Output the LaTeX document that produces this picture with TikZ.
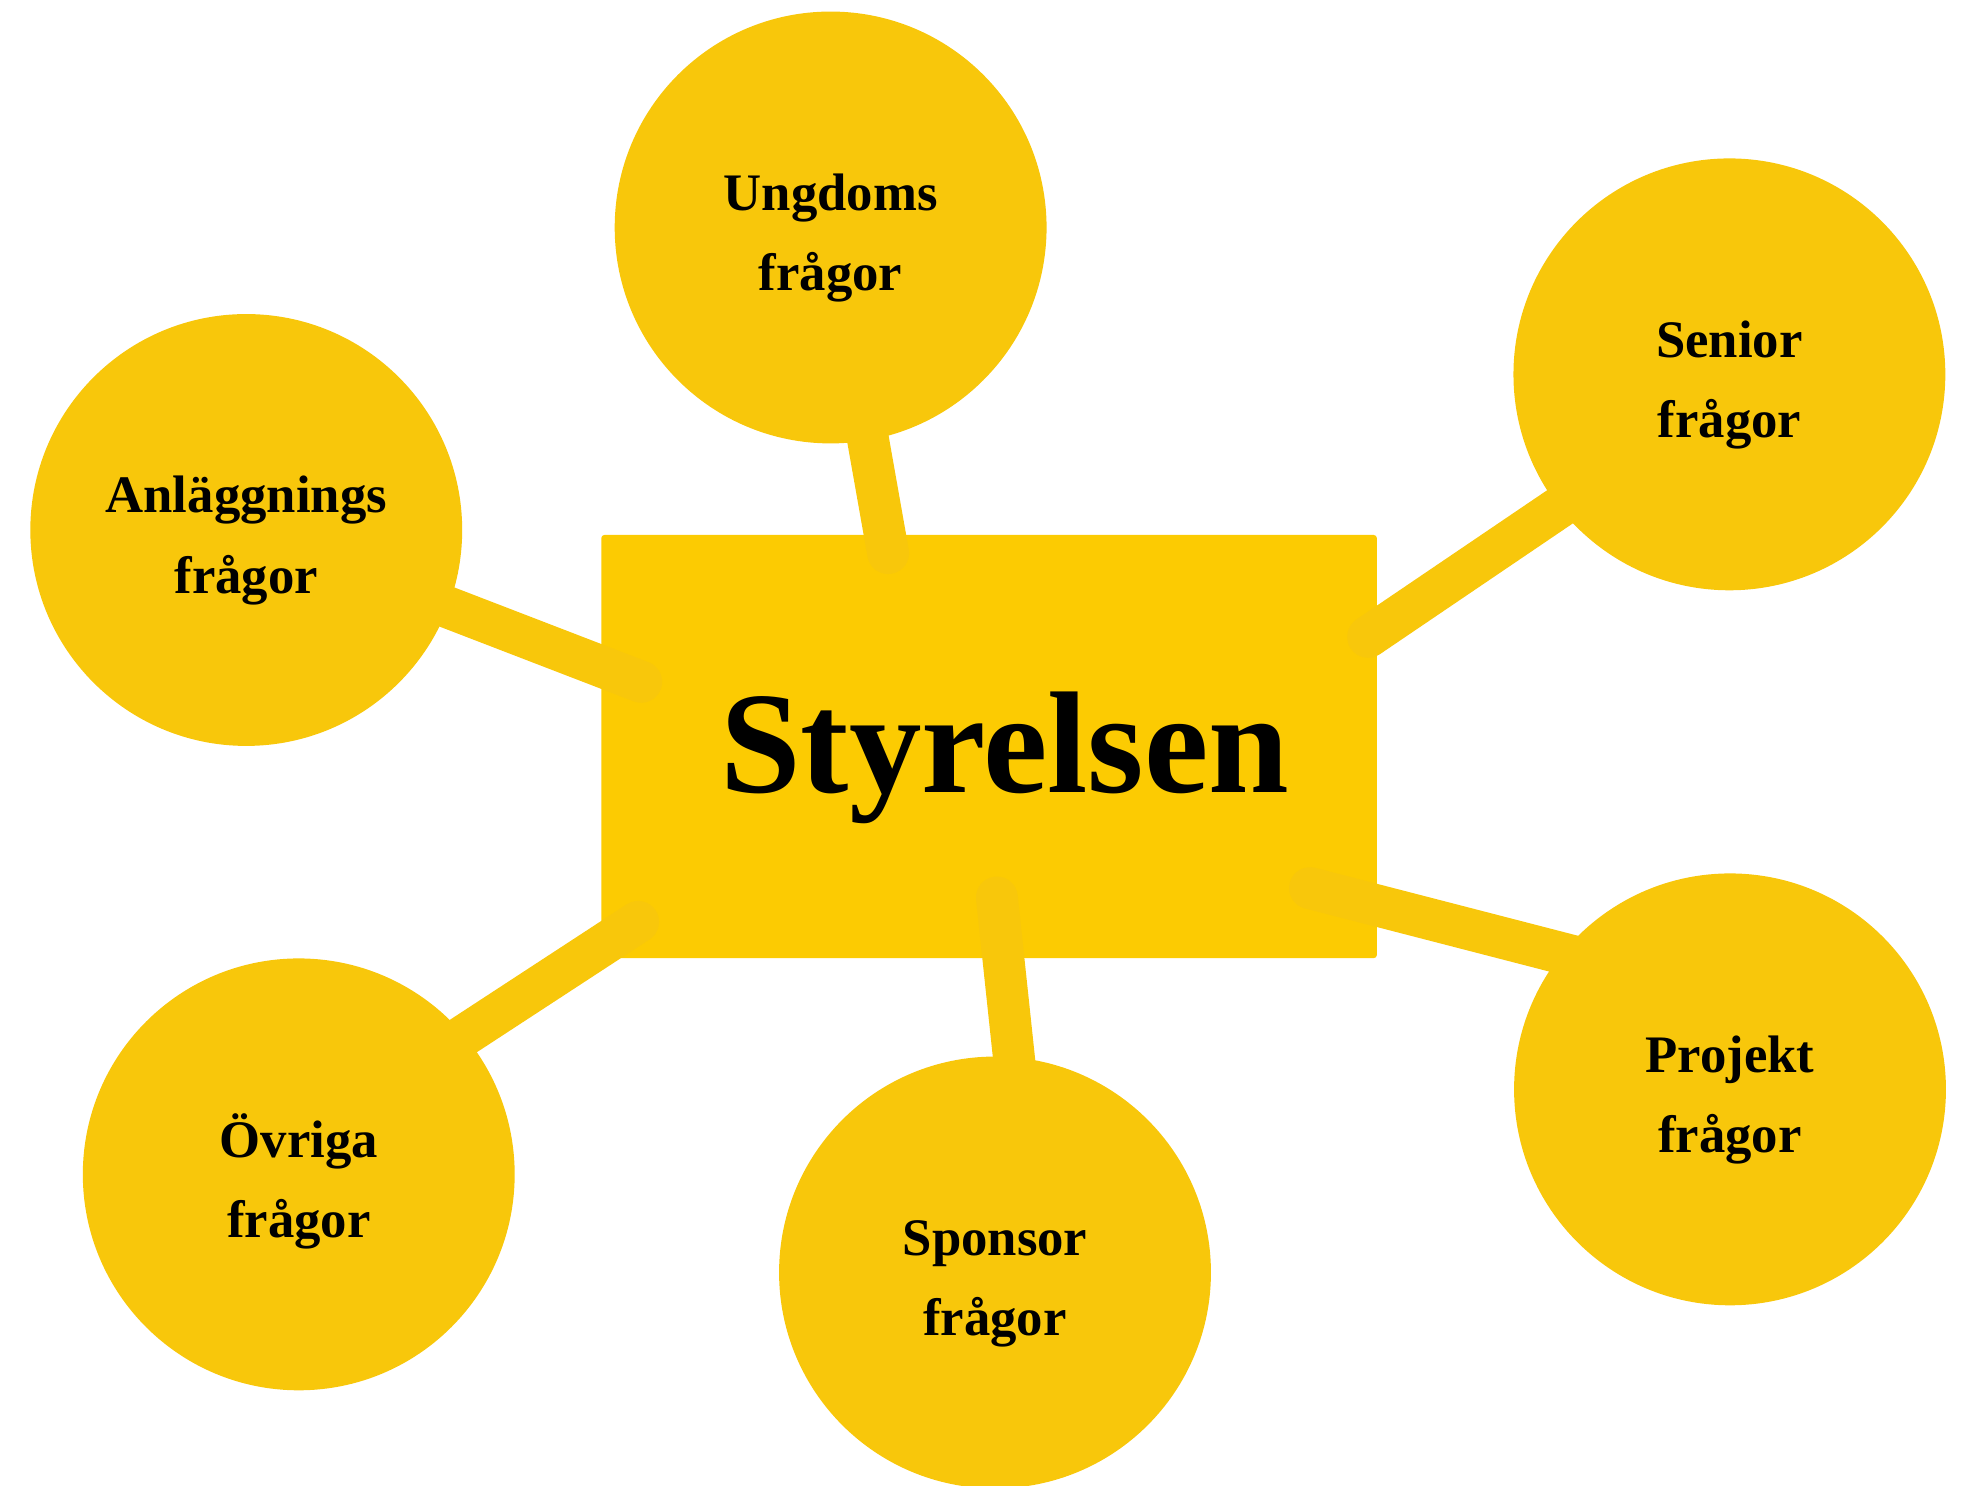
\documentclass[tikz,border=0pt]{standalone}
\usepackage{fontspec}
\setmainfont{Liberation Serif}
\pgfdeclarelayer{back}
\pgfdeclarelayer{links}
\pgfsetlayers{back,links,main}
\definecolor{boardyellow}{RGB}{252,203,2}
\definecolor{topicyellow}{RGB}{248,199,11}

\begin{document}
\begin{tikzpicture}[
    topic/.style={circle, fill=topicyellow, minimum size=6.91cm, inner sep=0pt,
                  align=center, text height=63pt,
                  font=\bfseries\fontsize{24}{36.7}\selectfont},
    board/.style={rectangle, fill=boardyellow, rounded corners=0.05cm,
                  minimum width=12.41cm, minimum height=6.77cm, text height=56pt,
                  font=\bfseries\fontsize{66}{70}\selectfont},
    link/.style={topicyellow, line width=0.67cm, line cap=round, shorten <=-0.6cm}
  ]
  \useasboundingbox (0,0) rectangle (31.488,23.76);

  % Drawing board S
  \begin{pgfonlayer}{back}
  \node [board] (styr) at (15.825,11.815) {\hspace{0.5cm}Styrelsen};
  \end{pgfonlayer}

  % Drawing topic circles
  \node [topic] (ungdom)  at (13.29,20.12) {Ungdoms\\frågor};
  \node [topic] (senior)  at (27.67,17.77) {Senior\\frågor};
  \node [topic] (anlagg)  at (3.94,15.28)  {Anläggnings\\frågor};
  \node [topic] (ovriga)  at (4.78,4.97)   {Övriga\\frågor};
  \node [topic] (sponsor) at (15.92,3.40)  {Sponsor\\frågor};
  \node [topic] (projekt) at (27.68,6.33)  {Projekt\\frågor};

  % Marking ends of links inside S
  \coordinate (eungdom)  at (14.21,14.91);
  \coordinate (esenior)  at (21.89,13.57);
  \coordinate (eanlagg)  at (10.26,12.85);
  \coordinate (eovriga)  at (10.21,9.01);
  \coordinate (esponsor) at (15.95,9.40);
  \coordinate (eprojekt) at (20.96,9.55);

  % Drawing links
  \begin{pgfonlayer}{links}
  \draw [link] (ungdom.-80)  -- (eungdom);
  \draw [link] (senior.218)  -- (esenior);
  \draw [link] (anlagg.-21)  -- (eanlagg);
  \draw [link] (ovriga.40)   -- (eovriga);
  \draw [link] (sponsor.85)  -- (esponsor);
  \draw [link] (projekt.141) -- (eprojekt);
  \end{pgfonlayer}
\end{tikzpicture}
\end{document}
